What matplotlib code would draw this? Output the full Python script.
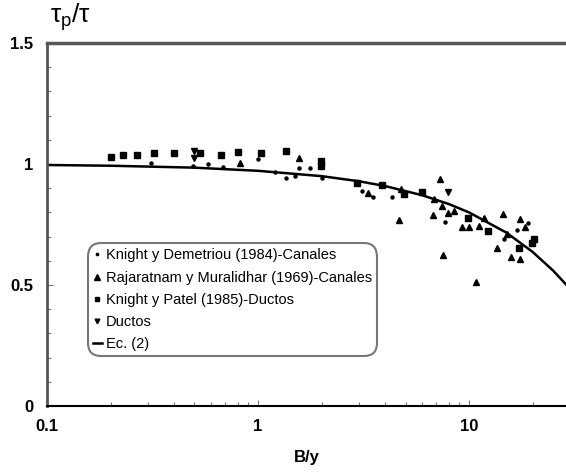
import matplotlib.pyplot as plt
from matplotlib.ticker import FixedLocator, FixedFormatter, NullFormatter, LogLocator

plt.rcParams["font.family"] = ["Liberation Sans", "DejaVu Sans"]
plt.rcParams["mathtext.fontset"] = "custom"
plt.rcParams["mathtext.rm"] = "Liberation Sans"
plt.rcParams["mathtext.it"] = "Liberation Sans"

# Knight y Demetriou (1984)-Canales (dots)
kd_x = [0.31, 0.49, 0.58, 0.68, 1.0, 1.2, 1.35, 1.49, 1.56, 1.76, 2.0,
        3.1, 3.5, 4.3, 7.7, 14.6, 16.8, 19.1]
kd_y = [1.003, 0.993, 1.0, 0.986, 1.021, 0.966, 0.941, 0.952, 0.982, 0.982, 0.944,
        0.89, 0.862, 0.862, 0.762, 0.69, 0.727, 0.755]

# Rajaratnam y Muralidhar (1969)-Canales (triangles)
rm_x = [0.82, 1.56, 3.31, 4.67, 4.75, 6.73, 6.82, 7.29, 7.43, 7.51, 7.93, 8.5,
        9.23, 10.0, 10.8, 11.2, 11.8, 13.5, 14.5, 15.2, 15.8, 17.5, 17.5, 18.4]
rm_y = [1.003, 1.025, 0.879, 0.769, 0.897, 0.789, 0.854, 0.938, 0.828, 0.624, 0.799, 0.807,
        0.738, 0.738, 0.514, 0.744, 0.776, 0.651, 0.793, 0.711, 0.614, 0.773, 0.606, 0.738]

# Knight y Patel (1985)-Ductos (squares)
kp_x = [0.20, 0.23, 0.266, 0.32, 0.40, 0.53, 0.67, 0.80, 1.03, 1.35, 1.98, 1.98,
        2.96, 3.88, 4.92, 5.97, 9.9, 12.3, 17.3, 19.8, 20.3]
kp_y = [1.03, 1.039, 1.037, 1.044, 1.044, 1.044, 1.037, 1.051, 1.044, 1.054, 1.013, 0.993,
        0.92, 0.913, 0.876, 0.886, 0.776, 0.724, 0.651, 0.672, 0.69]

# Ductos (down triangles)
du_x = [0.50, 0.50, 7.98]
du_y = [1.055, 1.023, 0.886]

# Ec. (2)
ec_x = [0.1, 0.2, 0.5, 1, 2, 3, 4, 6, 8, 10, 15, 20, 25, 30]
ec_y = [0.996, 0.993, 0.985, 0.972, 0.950, 0.929, 0.909, 0.871, 0.835, 0.800, 0.717, 0.637, 0.56, 0.486]

fig = plt.figure(figsize=(5.66, 4.76), dpi=100)
ax = fig.add_axes([0.083, 0.147, 0.917, 0.7626])

ax.plot(kd_x, kd_y, "o", color="black", ms=2.2, ls="none",
        label="Knight y Demetriou (1984)-Canales")
ax.plot(rm_x, rm_y, "^", color="black", ms=5, ls="none",
        label="Rajaratnam y Muralidhar (1969)-Canales")
ax.plot(kp_x, kp_y, "s", color="black", ms=4.2, ls="none",
        label="Knight y Patel (1985)-Ductos")
ax.plot(du_x, du_y, "v", color="black", ms=4.5, ls="none", label="Ductos")
ax.plot(ec_x, ec_y, "-", color="black", lw=1.8, label="Ec. (2)")

ax.set_xscale("log")
ax.set_xlim(0.1, 28.8)
ax.set_ylim(0, 1.5)

ax.xaxis.set_major_locator(FixedLocator([0.1, 1, 10]))
ax.xaxis.set_major_formatter(FixedFormatter(["0.1", "1", "10"]))
ax.xaxis.set_minor_locator(LogLocator(base=10, subs=range(2, 10)))
ax.xaxis.set_minor_formatter(NullFormatter())
ax.yaxis.set_major_locator(FixedLocator([0, 0.5, 1, 1.5]))
ax.yaxis.set_major_formatter(FixedFormatter(["0", "0.5", "1", "1.5"]))
ax.yaxis.set_minor_locator(FixedLocator([0.1, 0.2, 0.3, 0.4, 0.6, 0.7, 0.8, 0.9,
                                         1.1, 1.2, 1.3, 1.4]))

ax.tick_params(which="both", direction="in", color="#777777", width=0.8)
ax.tick_params(which="major", length=4)
ax.tick_params(which="minor", length=3)
ax.tick_params(axis="y", pad=10, labelsize=12)
ax.tick_params(axis="x", pad=9, labelsize=12)
for lab in ax.get_xticklabels() + ax.get_yticklabels():
    lab.set_fontweight("bold")

ax.spines["right"].set_visible(False)
ax.spines["left"].set_color("#555555")
ax.spines["left"].set_linewidth(2)
ax.spines["top"].set_color("#555555")
ax.spines["top"].set_linewidth(2.5)
ax.spines["bottom"].set_color("black")
ax.spines["bottom"].set_linewidth(1.5)

ax.set_xlabel("B/y", fontsize=12, fontweight="bold", labelpad=12)
fig.text(0.088, 0.93, r"$\mathrm{\tau_p/\tau}$", fontsize=19, ha="left", va="bottom")

leg = ax.legend(loc="upper left", bbox_to_anchor=(0.084, 0.44), fontsize=10.5,
                handlelength=0.6, handletextpad=0.3, borderpad=0.15,
                labelspacing=0.56, frameon=True, fancybox=True, borderaxespad=0,
                markerscale=0.75)
frame = leg.get_frame()
frame.set_edgecolor("#555555")
frame.set_linewidth(1.5)
frame.set_boxstyle("round,pad=0.2,rounding_size=0.9")

fig.savefig("out.png", dpi=100)
